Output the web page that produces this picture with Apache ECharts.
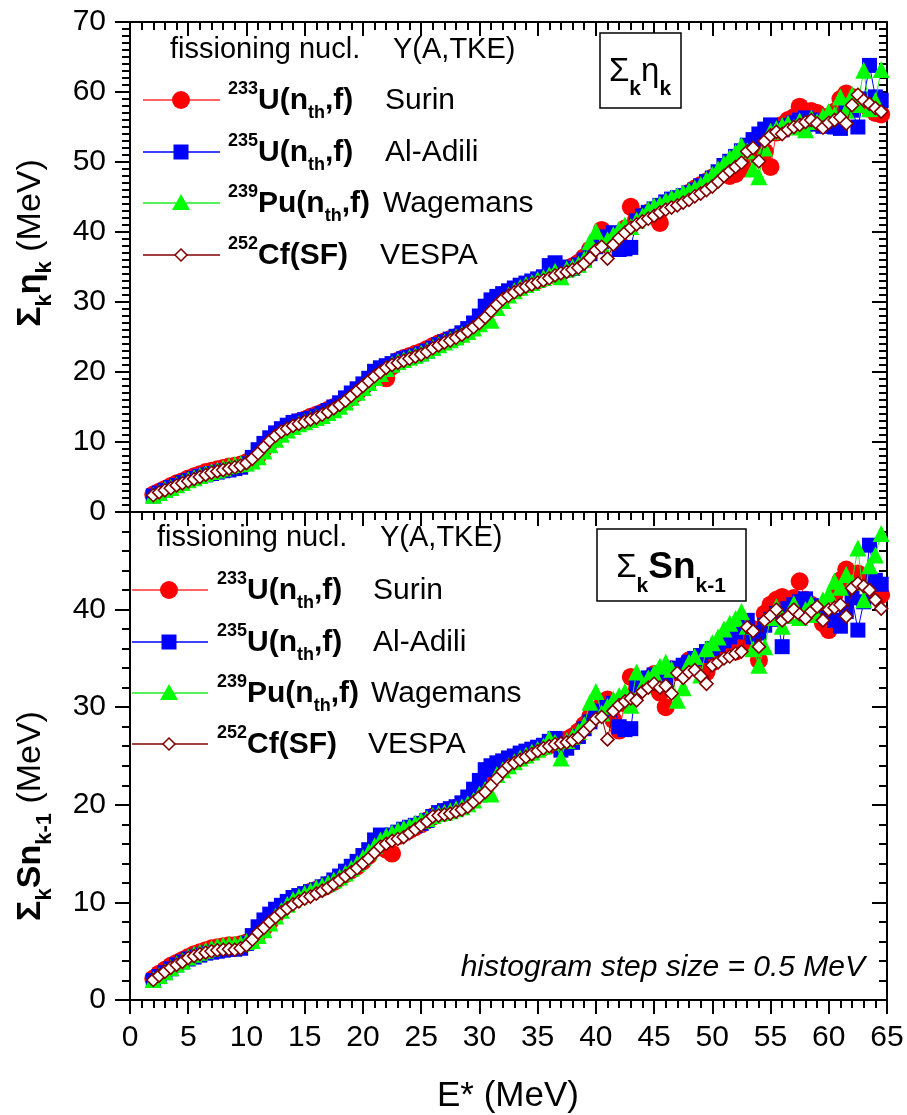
<!DOCTYPE html>
<html><head><meta charset="utf-8">
<script src="https://cdn.jsdelivr.net/npm/echarts/dist/echarts.min.js"></script>
<style>html,body{margin:0;padding:0;background:#fff}#c{width:907px;height:1115px}</style>
</head><body><div id="c"></div>
<script>
// Excitation energy E* (MeV), histogram step 0.5 MeV
const eStar = [
2,2.5,3,3.5,4,4.5,5,5.5,6,6.5,
7,7.5,8,8.5,9,9.5,10,10.5,11,11.5,
12,12.5,13,13.5,14,14.5,15,15.5,16,16.5,
17,17.5,18,18.5,19,19.5,20,20.5,21,21.5,
22,22.5,23,23.5,24,24.5,25,25.5,26,26.5,
27,27.5,28,28.5,29,29.5,30,30.5,31,31.5,
32,32.5,33,33.5,34,34.5,35,35.5,36,36.5,
37,37.5,38,38.5,39,39.5,40,40.5,41,41.5,
42,42.5,43,43.5,44,44.5,45,45.5,46,46.5,
47,47.5,48,48.5,49,49.5,50,50.5,51,51.5,
52,52.5,53,53.5,54,54.5,55,55.5,56,56.5,
57,57.5,58,58.5,59,59.5,60,60.5,61,61.5,
62,62.5,63,63.5,64,64.5];

// Top panel: sum_k eta_k (MeV)
const etaSurin = [
2.5,2.9,3.3,3.7,4.1,4.4,4.8,5.1,5.4,5.7,
5.9,6.1,6.3,6.5,6.6,6.8,7.1,7.5,8.1,9.0,
9.9,10.7,11.4,12.0,12.5,12.9,13.2,13.6,13.9,14.2,
14.6,15.0,15.4,15.8,16.4,17.0,17.8,18.6,19.5,19.4,
19.1,20.8,21.6,22.0,22.3,22.6,22.9,23.3,23.7,24.1,
24.4,24.7,25.0,25.4,25.9,26.5,27.2,28.1,29.1,30.0,
30.6,31.2,31.7,32.1,32.5,32.8,33.1,33.4,33.8,34.1,
34.4,34.7,35.1,35.6,36.4,37.5,38.6,40.3,39.0,39.4,
38.4,40.5,43.6,41.8,42.2,42.8,43.1,41.3,44.0,44.4,
44.6,45.0,45.6,46.2,46.7,47.2,47.8,48.2,48.5,48.0,
48.3,49.0,50.5,51.8,52.5,51.5,49.3,54.2,55.3,56.0,
56.4,57.9,56.8,57.3,57.0,56.2,56.5,57.2,59.0,59.8,
59.3,59.0,58.5,57.6,57.0,56.8];
const etaAlAdili = [
2.3,2.7,3.1,3.5,3.8,4.2,4.5,4.8,5.1,5.3,
5.5,5.7,5.9,6.0,6.2,6.4,6.9,7.8,8.9,9.8,
10.6,11.3,11.9,12.4,12.8,13.0,13.2,13.4,13.7,14.1,
14.5,15.0,15.6,16.3,17.0,17.6,18.3,19.1,20.1,20.6,
20.9,21.2,21.6,21.9,22.1,22.3,22.6,23.0,23.4,23.9,
24.3,24.7,25.1,25.6,26.2,27.0,28.0,29.4,30.3,30.8,
31.2,31.6,32.0,32.4,32.7,33.0,33.3,33.6,35.2,35.6,
35.0,34.6,34.8,35.3,36.0,36.9,37.9,38.6,39.3,39.9,
37.5,37.6,37.8,41.6,42.3,42.8,43.3,43.8,44.3,44.7,
44.9,45.2,45.6,46.0,46.6,47.2,47.7,48.6,49.5,50.1,
50.8,51.6,52.4,53.2,54.0,54.7,55.3,54.8,54.6,55.2,
55.6,56.0,56.3,56.0,55.4,55.1,55.5,55.0,54.8,57.6,
57.4,55.0,59.0,63.8,59.3,58.8];
const etaWagemans = [
2.4,2.8,3.2,3.5,3.9,4.2,4.6,4.9,5.2,5.5,
5.8,6.0,6.3,6.6,6.8,6.9,7.0,7.3,7.9,8.7,
9.6,10.4,11.1,11.7,12.2,12.6,12.9,13.2,13.5,13.8,
14.2,14.6,15.1,15.7,16.4,17.1,17.8,18.5,19.2,19.8,
20.5,21.1,21.5,21.8,22.1,22.4,22.7,23.1,23.5,23.9,
24.3,24.6,25.0,25.4,25.8,26.3,26.9,27.5,27.4,29.2,
30.2,31.0,31.6,32.1,32.5,32.8,33.2,33.5,33.9,34.4,
33.6,34.7,35.0,35.4,36.1,38.6,40.1,38.2,38.9,39.6,
40.4,41.0,40.8,41.7,42.3,43.2,43.7,44.0,44.5,44.9,
45.2,45.6,45.9,46.3,46.8,47.5,48.2,49.0,49.8,50.6,
51.4,52.4,51.6,49.0,47.9,52.0,54.4,54.8,55.2,55.5,
55.0,55.9,54.6,56.3,55.8,56.5,57.2,56.8,59.3,57.4,
59.6,58.2,63.1,57.6,58.8,63.2];
const etaVespa = [
2.4,2.8,3.1,3.4,3.8,4.1,4.4,4.7,5.0,5.3,
5.6,5.8,6.0,6.2,6.4,6.6,7.0,7.6,8.4,9.3,
10.2,10.9,11.5,11.9,12.3,12.6,12.9,13.2,13.5,13.9,
14.3,14.8,15.3,15.9,16.6,17.3,18.0,18.7,19.4,20.0,
20.6,21.0,21.3,21.6,21.9,22.2,22.5,22.9,23.4,23.8,
24.2,24.5,24.9,25.3,25.8,26.4,27.0,27.8,28.7,29.6,
30.4,30.9,31.4,31.8,32.2,32.5,32.8,33.1,33.4,33.8,
34.1,34.3,34.6,34.9,35.5,36.3,37.4,37.9,36.2,38.2,
39.1,39.9,40.6,41.1,41.5,41.9,42.3,42.8,43.2,43.5,
43.8,44.2,44.6,45.1,45.5,46.0,46.5,47.2,48.0,48.7,
49.3,49.9,51.5,52.0,50.1,53.0,53.8,54.3,54.0,54.6,
55.0,55.3,55.7,56.0,55.5,54.9,55.6,56.0,56.4,55.5,
58.1,59.6,58.8,58.3,57.7,57.2];

// Bottom panel: sum_k Sn_(k-1) (MeV)
const snSurin = [
2.2,2.7,3.1,3.5,3.8,4.1,4.4,4.7,4.9,5.1,
5.3,5.4,5.5,5.6,5.6,5.7,5.9,6.3,6.8,7.4,
8.0,8.7,9.3,9.9,10.3,10.6,10.8,11.1,11.3,11.5,
11.8,12.1,12.5,12.9,13.3,13.7,14.2,14.8,15.5,15.7,
15.4,15.0,16.8,17.1,17.4,17.7,18.0,18.4,18.8,19.1,
19.3,19.5,19.7,19.9,20.2,20.6,21.2,21.9,22.8,23.4,
23.9,24.2,24.5,24.8,25.1,25.4,25.7,25.9,26.1,26.3,
26.5,26.7,27.0,27.5,28.2,29.0,29.6,30.2,30.8,28.7,
27.6,30.4,33.1,31.6,32.3,32.9,33.4,31.5,30.0,33.9,
33.6,34.1,34.8,34.4,34.0,33.6,34.6,35.3,35.7,36.0,
35.7,36.3,37.0,38.0,34.8,39.6,40.5,41.0,41.3,40.6,
41.2,42.9,41.0,40.5,40.1,38.6,37.9,41.5,43.0,44.1,
43.6,43.7,43.0,42.5,41.8,41.5];
const snAlAdili = [
2.0,2.4,2.8,3.2,3.6,3.9,4.2,4.4,4.6,4.8,
4.9,5.0,5.1,5.2,5.2,5.3,5.8,6.6,7.5,8.2,
8.8,9.3,9.7,10.1,10.5,10.7,10.9,11.1,11.3,11.6,
11.9,12.3,12.7,13.2,13.7,14.2,14.8,15.4,16.4,16.9,
16.8,16.9,17.2,17.5,17.7,17.9,18.1,18.4,18.8,19.2,
19.4,19.6,19.8,20.2,20.8,21.6,22.5,23.6,24.0,24.3,
24.5,24.8,25.0,25.3,25.5,25.7,25.9,26.1,26.5,26.8,
25.6,25.8,26.4,27.0,27.8,28.5,29.2,29.6,30.0,30.4,
28.0,27.7,27.8,32.2,32.6,33.0,33.3,33.0,32.6,33.7,
34.0,34.3,34.6,35.0,35.3,35.7,36.0,36.4,36.8,37.2,
37.7,38.2,38.9,37.2,37.6,38.4,39.0,39.6,36.2,40.1,
40.5,40.8,41.1,40.4,40.0,39.4,39.8,38.9,38.3,39.8,
41.2,37.9,40.8,46.6,43.0,42.6];
const snWagemans = [
2.1,2.5,2.9,3.3,3.7,4.0,4.4,4.7,4.9,5.1,
5.3,5.5,5.6,5.7,5.7,5.8,6.0,6.1,6.6,7.2,
7.9,8.6,9.2,9.8,10.3,10.6,10.9,11.2,11.5,11.7,
12.0,12.3,12.6,13.0,13.5,14.0,14.6,15.2,15.8,16.4,
16.8,17.1,17.4,17.6,17.8,18.1,18.4,18.6,18.9,19.1,
19.2,19.4,19.6,19.8,20.1,20.5,21.1,21.6,21.1,23.1,
23.6,24.0,24.4,24.8,25.1,25.4,25.7,26.0,26.8,26.4,
24.8,26.6,27.0,27.5,28.2,30.5,31.6,29.4,30.1,30.8,
31.2,31.6,30.2,33.6,32.2,33.0,33.5,34.2,34.6,33.9,
30.7,32.0,34.6,35.2,33.3,36.0,36.6,37.2,38.0,38.6,
39.1,39.8,38.3,36.0,34.3,36.2,39.2,40.3,38.3,39.4,
40.6,39.2,40.0,40.6,39.5,41.0,41.6,42.9,42.3,43.6,
42.8,46.3,41.0,44.5,45.6,47.8];
const snVespa = [
2.05,2.5,2.9,3.3,3.6,3.9,4.3,4.5,4.7,4.85,
5.0,5.1,5.15,5.2,5.15,5.3,5.6,6.2,6.9,7.4,
8.0,8.5,9.0,9.4,9.8,10.1,10.4,10.6,10.9,11.2,
11.5,11.9,12.3,12.7,13.1,13.5,14.0,14.5,15.1,15.7,
16.0,16.3,16.5,16.7,17.1,17.5,17.9,18.3,18.8,18.9,
19.0,19.1,19.3,19.5,19.8,20.3,20.8,21.3,22.0,22.7,
23.4,24.0,24.3,24.6,24.9,25.2,25.5,25.8,26.0,26.2,
26.3,26.4,26.6,26.9,27.5,28.1,28.8,29.0,26.7,29.6,
30.2,30.6,30.9,30.7,31.6,32.0,32.4,32.0,32.2,31.4,
33.5,33.0,33.6,33.8,33.2,32.4,34.3,34.6,35.0,35.2,
35.5,35.7,38.2,37.8,36.2,38.9,39.4,40.0,38.9,39.3,
40.0,39.5,39.1,39.8,40.3,38.9,40.0,40.2,40.5,39.3,
42.2,42.7,42.4,42.0,41.0,40.1];

const xTicks = {min:0, max:65, interval:5};
const yTopTicks = {min:0, max:70, interval:10};
const yBotTicks = {min:0, max:50, interval:10};

const FF = "'Liberation Sans', Arial, sans-serif";
const BLK = '#000';

function xAx(grid, pos, inside, labels) {
  return {type:'value', gridIndex:grid, position:pos, min:xTicks.min, max:xTicks.max, interval:xTicks.interval,
    axisLine:{show:true, onZero:false, lineStyle:{color:BLK, width:2}},
    axisTick:{show:true, inside:inside, length:14, lineStyle:{color:BLK, width:2}},
    minorTick:{show:true, splitNumber:5, length:8, lineStyle:{color:BLK, width:2}},
    splitLine:{show:false}, minorSplitLine:{show:false},
    axisLabel:{show:labels, fontSize:30, color:BLK, fontFamily:FF, margin:23}};
}
function yAx(grid, pos, inside, labels, t, minorSplit) {
  return {type:'value', gridIndex:grid, position:pos, min:t.min, max:t.max, interval:t.interval,
    axisLine:{show:true, onZero:false, lineStyle:{color:BLK, width:2}},
    axisTick:{show:true, inside:inside, length:15, lineStyle:{color:BLK, width:2}},
    minorTick:{show:true, splitNumber:minorSplit, length:8, lineStyle:{color:BLK, width:2}},
    splitLine:{show:false}, minorSplitLine:{show:false},
    axisLabel:{show:labels, fontSize:30, color:BLK, fontFamily:FF, margin:24,
      formatter: v => (grid === 1 && v >= 50) ? '' : String(v)}};
}

const styles = [
  {symbol:'circle', size:18, fill:'#ff0000', line:'#ff3030', border:null},
  {symbol:'rect', size:15, fill:'#0000ff', line:'#0000ff', border:null},
  {symbol:'triangle', size:17, fill:'#00ff00', line:'#22ee22', border:null},
  {symbol:'diamond', size:13, fill:'#ffffff', line:'#800000', border:'#800000'}
];
const names = ['233U Surin','235U Al-Adili','239Pu Wagemans','252Cf VESPA'];
const topData = [etaSurin, etaAlAdili, etaWagemans, etaVespa];
const botData = [snSurin, snAlAdili, snWagemans, snVespa];

const series = [];
function addSeries(arr, xi, yi, k, panel) {
  const s = styles[k];
  series.push({
    name: names[k] + panel, type:'line', xAxisIndex:xi, yAxisIndex:yi,
    data: eStar.map((e,i)=>[e, arr[i]]),
    symbol:s.symbol, symbolSize:s.size, showAllSymbol:true,
    lineStyle:{color:s.line, width:1},
    itemStyle:{color:s.fill, borderColor:s.border || s.fill, borderWidth:s.border ? 1.6 : 0, opacity:1},
    emphasis:{disabled:true}, z: 2 + k
  });
}
topData.forEach((a,k)=>addSeries(a, 0, 0, k, ' top'));
botData.forEach((a,k)=>addSeries(a, 2, 2, k, ' bottom'));

// ---------- graphic: legends, labels, titles ----------
const g = [];
function txt(x, y, text, o) {
  o = o || {};
  g.push({type:'text', x:x, y:y, rotation:o.rotation || 0, z:100, silent:true,
    style:Object.assign({legacy:false, text:text, fill:BLK, fontFamily:FF, fontSize:o.fontSize || 30,
      fontWeight:o.fontWeight || 'normal', fontStyle:o.fontStyle || 'normal',
      align:o.align || 'left', verticalAlign:'middle'}, o.rich ? {rich:o.rich} : {})});
}
function richItem(size, weight, lh, va) {
  const r = {fontSize:size, fontWeight:weight, fontFamily:FF, fill:BLK, lineHeight:lh};
  if (va) r.verticalAlign = va;
  return r;
}
const legRich = {
  sup: richItem(18, 'bold', 18, 'top'),
  b: richItem(30, 'bold', 42),
  sub: richItem(18, 'bold', 18, 'bottom')
};
const legTexts = ['{sup|233}{b|U(n}{sub|th}{b|,f)}', '{sup|235}{b|U(n}{sub|th}{b|,f)}',
  '{sup|239}{b|Pu(n}{sub|th}{b|,f)}', '{sup|252}{b|Cf(SF)}'];
const legRefs = ['Surin', 'Al-Adili', 'Wagemans', 'VESPA'];

function marker(k, cx, cy) {
  if (k === 0) g.push({type:'circle', z:100, shape:{cx:cx, cy:cy, r:9}, style:{fill:'#ff0000'}});
  if (k === 1) g.push({type:'rect', z:100, shape:{x:cx-7.5, y:cy-7.5, width:15, height:15}, style:{fill:'#0000ff'}});
  if (k === 2) g.push({type:'polygon', z:100, shape:{points:[[cx,cy-9],[cx+9,cy+7],[cx-9,cy+7]]}, style:{fill:'#00ff00'}});
  if (k === 3) g.push({type:'polygon', z:100, shape:{points:[[cx,cy-6],[cx+6,cy],[cx,cy+6],[cx-6,cy]]}, style:{fill:'#fff', stroke:'#800000', lineWidth:1.5}});
}
function legend(hx, hy, yx, lx0, lx1, mx, ys, tx, rx) {
  txt(hx, hy, 'fissioning nucl.', {fontSize:29});
  txt(yx, hy, 'Y(A,TKE)', {fontSize:29});
  ys.forEach((y, k) => {
    g.push({type:'line', z:99, shape:{x1:lx0, y1:y, x2:lx1, y2:y}, style:{stroke:styles[k].line, lineWidth:1.5}});
    marker(k, mx, y);
    txt(tx, y + 1, legTexts[k], {rich:legRich});
    txt(rx[k], y + 1, legRefs[k], {fontSize:30});
  });
}
legend(170, 50, 393, 143, 220, 181, [100, 152, 203, 255], 228, [385, 385, 383, 380]);
legend(157, 538, 380, 132, 208, 169, [590, 642, 693, 744], 217, [373, 373, 371, 368]);

// panel label boxes
g.push({type:'rect', z:100, shape:{x:600, y:33, width:81, height:75}, style:{fill:'#fff', stroke:BLK, lineWidth:1.5}});
txt(640, 72, '{n|Σ}{s|k}{n|η}{s|k}', {align:'center', rich:{n:richItem(33,'normal',56), s:richItem(21,'bold',21,'bottom')}});
g.push({type:'rect', z:100, shape:{x:597, y:529, width:149, height:72}, style:{fill:'#fff', stroke:BLK, lineWidth:1.5}});
txt(671, 568, '{n|Σ}{s|k}{nb|Sn}{s|k-1}', {align:'center', rich:{n:richItem(33,'normal',58), nb:richItem(37,'bold',58), s:richItem(21,'bold',21,'bottom')}});

// note
txt(865, 968, 'histogram step size = 0.5 MeV', {align:'right', fontSize:30, fontStyle:'italic'});

// axis titles
txt(508, 1096, 'E* (MeV)', {align:'center', fontSize:35});
const yRich = {b:richItem(34,'bold',50), bs:richItem(22,'bold',22,'bottom'), n:richItem(34,'normal',50)};
txt(31, 243, '{b|Σ}{bs|k}{b|η}{bs|k}{n| (MeV)}', {align:'center', rotation:Math.PI/2, rich:yRich});
txt(31, 816, '{b|Σ}{bs|k}{b|Sn}{bs|k-1}{n| (MeV)}', {align:'center', rotation:Math.PI/2, rich:yRich});

const chart = echarts.init(document.getElementById('c'), null, {renderer:'canvas'});
chart.setOption({
  animation:false,
  backgroundColor:'#fff',
  grid:[
    {left:130, top:22, width:757, height:490, outerBoundsMode:'none', containLabel:false},
    {left:130, top:512, width:757, height:488, outerBoundsMode:'none', containLabel:false}
  ],
  xAxis:[xAx(0,'bottom',false,false), xAx(0,'top',true,false), xAx(1,'bottom',false,true)],
  yAxis:[yAx(0,'left',false,true,yTopTicks,10), yAx(0,'right',true,false,yTopTicks,10),
         yAx(1,'left',false,true,yBotTicks,5), yAx(1,'right',true,false,yBotTicks,5)],
  series: series,
  graphic: g
});
</script></body></html>
